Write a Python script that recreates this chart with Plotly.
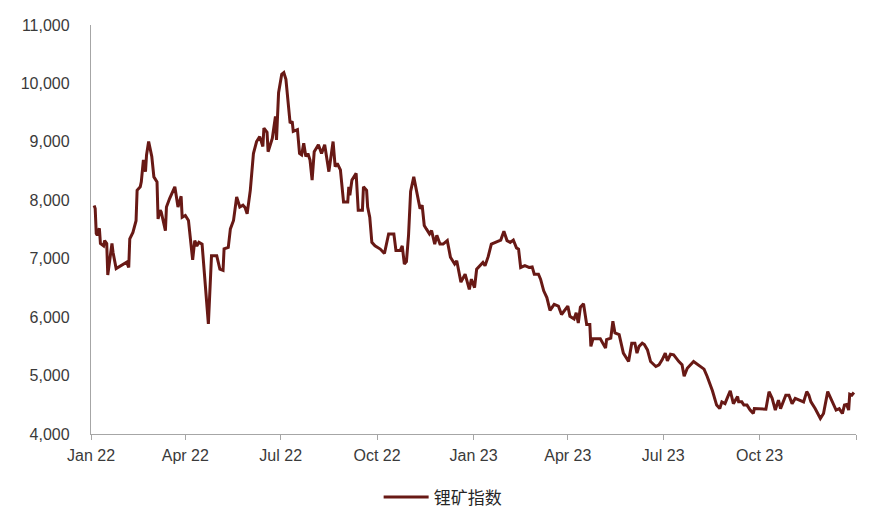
import plotly.graph_objects as go

dates = [
    "2022-01-04","2022-01-05","2022-01-06","2022-01-07","2022-01-08","2022-01-09","2022-01-10","2022-01-13","2022-01-14","2022-01-16",
    "2022-01-17","2022-01-21","2022-01-22","2022-01-25","2022-02-04","2022-02-06","2022-02-07","2022-02-10","2022-02-13","2022-02-14",
    "2022-02-17","2022-02-18","2022-02-20","2022-02-22","2022-02-23","2022-02-25","2022-02-28","2022-03-02","2022-03-05","2022-03-06",
    "2022-03-08","2022-03-09","2022-03-13","2022-03-14","2022-03-17","2022-03-21","2022-03-22","2022-03-25","2022-03-28","2022-03-29",
    "2022-04-01","2022-04-04","2022-04-08","2022-04-10","2022-04-12","2022-04-14","2022-04-17","2022-04-23","2022-04-26","2022-05-01",
    "2022-05-04","2022-05-07","2022-05-08","2022-05-12","2022-05-14","2022-05-17","2022-05-20","2022-05-23","2022-05-26","2022-05-28",
    "2022-05-30","2022-06-02","2022-06-05","2022-06-08","2022-06-11","2022-06-14","2022-06-15","2022-06-18","2022-06-19","2022-06-23",
    "2022-06-26","2022-06-27","2022-06-29","2022-07-02","2022-07-04","2022-07-06","2022-07-10","2022-07-12","2022-07-13","2022-07-17",
    "2022-07-19","2022-07-21","2022-07-23","2022-07-25","2022-07-27","2022-07-29","2022-07-31","2022-08-02","2022-08-06","2022-08-09",
    "2022-08-12","2022-08-16","2022-08-20","2022-08-22","2022-08-24","2022-08-27","2022-08-30","2022-09-03","2022-09-04","2022-09-05",
    "2022-09-07","2022-09-11","2022-09-13","2022-09-17","2022-09-18","2022-09-21","2022-09-22","2022-09-24","2022-09-26","2022-09-29",
    "2022-10-04","2022-10-08","2022-10-10","2022-10-12","2022-10-17","2022-10-19","2022-10-23","2022-10-25","2022-10-27","2022-10-29",
    "2022-10-31","2022-11-02","2022-11-05","2022-11-08","2022-11-11","2022-11-13","2022-11-15","2022-11-17","2022-11-20","2022-11-22",
    "2022-11-25","2022-11-27","2022-11-30","2022-12-03","2022-12-07","2022-12-10","2022-12-14","2022-12-16","2022-12-20","2022-12-24",
    "2022-12-28","2022-12-30","2023-01-02","2023-01-04","2023-01-07","2023-01-10","2023-01-12","2023-01-15","2023-01-18","2023-01-22",
    "2023-01-27","2023-01-30","2023-02-02","2023-02-05","2023-02-08","2023-02-11","2023-02-13","2023-02-15","2023-02-19","2023-02-23",
    "2023-02-26","2023-02-28","2023-03-04","2023-03-06","2023-03-09","2023-03-12","2023-03-15","2023-03-19","2023-03-23","2023-03-26",
    "2023-03-30","2023-04-01","2023-04-03","2023-04-07","2023-04-09","2023-04-11","2023-04-13","2023-04-16","2023-04-19","2023-04-22",
    "2023-04-23","2023-04-25","2023-05-02","2023-05-05","2023-05-07","2023-05-08","2023-05-12","2023-05-14","2023-05-16","2023-05-20",
    "2023-05-24","2023-05-29","2023-06-01","2023-06-04","2023-06-06","2023-06-08","2023-06-11","2023-06-13","2023-06-16","2023-06-19",
    "2023-06-24","2023-06-27","2023-06-30","2023-07-03","2023-07-05","2023-07-08","2023-07-11","2023-07-16","2023-07-19","2023-07-21",
    "2023-07-24","2023-07-30","2023-08-06","2023-08-09","2023-08-12","2023-08-17","2023-08-21","2023-08-24","2023-08-26","2023-08-29",
    "2023-08-31","2023-09-03","2023-09-06","2023-09-10","2023-09-11","2023-09-14","2023-09-16","2023-09-19","2023-09-22","2023-09-25",
    "2023-09-26","2023-10-07","2023-10-10","2023-10-13","2023-10-16","2023-10-19","2023-10-21","2023-10-24","2023-10-26","2023-10-29",
    "2023-11-01","2023-11-04","2023-11-09","2023-11-12","2023-11-15","2023-11-17","2023-11-19","2023-11-23","2023-11-28","2023-12-01",
    "2023-12-05","2023-12-08","2023-12-11","2023-12-13","2023-12-16","2023-12-19","2023-12-21","2023-12-23","2023-12-25","2023-12-26",
    "2023-12-28","2023-12-30",
]

lithium_index = [
    7910,7860,7430,7400,7480,7520,7260,7220,7310,7260,
    6720,7260,7110,6830,6940,6850,7340,7450,7650,8170,
    8230,8315,8690,8490,8775,9005,8750,8400,8315,7680,
    7830,7800,7480,7885,8030,8200,8230,7885,8070,7710,
    7740,7655,6980,7310,7220,7280,7250,5885,7050,7050,
    6820,6800,7170,7195,7510,7655,8055,7885,7915,7875,
    7770,8170,8800,9005,9090,8920,9235,9165,8830,9060,
    9435,9035,9840,10155,10185,10070,9320,9350,9180,9210,
    8800,8775,8975,8750,8800,8690,8345,8830,8950,8800,
    8950,8490,9005,8575,8630,8520,7970,7970,8230,8085,
    8345,8460,7830,7830,8230,8170,7885,7710,7280,7220,
    7165,7090,7250,7425,7425,7140,7140,7220,6910,6950,
    7400,8150,8400,8140,7855,7915,7570,7510,7425,7480,
    7250,7400,7250,7250,7310,7025,6910,6965,6600,6735,
    6475,6650,6505,6820,6880,6935,6880,7035,7250,7280,
    7320,7470,7310,7280,7320,7185,7165,6850,6880,6850,
    6860,6735,6735,6650,6450,6335,6115,6220,6190,6045,
    6130,6190,6015,5970,6075,5900,6170,6230,5875,5875,
    5500,5630,5630,5530,5470,5615,5640,5930,5730,5700,
    5385,5240,5555,5555,5385,5500,5555,5530,5440,5240,
    5155,5185,5270,5385,5250,5365,5355,5240,5185,4990,
    5125,5240,5155,5110,4985,4740,4495,4435,4550,4520,
    4610,4740,4520,4640,4550,4550,4495,4495,4410,4350,
    4435,4425,4725,4610,4410,4580,4435,4580,4665,4665,
    4520,4610,4565,4550,4725,4665,4550,4435,4265,4350,
    4725,4610,4495,4410,4435,4350,4495,4505,4410,4680,
    4665,4710,
]

tick_dates = ["2022-01-01","2022-04-01","2022-07-01","2022-10-01","2023-01-01",
              "2023-04-01","2023-07-01","2023-10-01","2024-01-01"]
tick_labels = ["Jan 22","Apr 22","Jul 22","Oct 22","Jan 23","Apr 23","Jul 23","Oct 23",""]
y_ticks = [4000,5000,6000,7000,8000,9000,10000,11000]
series_name = "锂矿指数"

FONT = "Liberation Sans, Arial, Noto Sans CJK SC, sans-serif"
LINE_COLOR = "#681915"
AXIS_COLOR = "#A6A6A6"

fig = go.Figure()
fig.add_trace(go.Scatter(
    x=dates, y=lithium_index, mode="lines", name=series_name,
    line=dict(color=LINE_COLOR, width=3),
))

fig.update_layout(
    width=876, height=531,
    margin=dict(l=91, r=20, t=25, b=97, autoexpand=False),
    paper_bgcolor="white", plot_bgcolor="white",
    font=dict(family=FONT, size=16, color="#3A3A3A"),
    showlegend=True,
    legend=dict(orientation="h", x=0.376, xanchor="left", y=-0.155, yanchor="middle",
                font=dict(family="Noto Sans CJK SC, sans-serif", size=17, color="#262626"),
                itemwidth=45, bgcolor="rgba(0,0,0,0)"),
)
fig.update_xaxes(
    type="date", range=["2022-01-01", "2024-01-01"],
    tickvals=tick_dates, ticktext=tick_labels,
    showline=True, linecolor=AXIS_COLOR, linewidth=1.3,
    ticks="outside", ticklen=5, tickcolor=AXIS_COLOR, tickwidth=1,
    showgrid=False, zeroline=False,
    ticklabelstandoff=2,
    tickfont=dict(size=16, color="#3A3A3A"),
)
fig.update_yaxes(
    range=[4000, 11000], tickvals=y_ticks, tickformat=",d",
    showline=True, linecolor=AXIS_COLOR, linewidth=1.3,
    ticks="", showgrid=False, zeroline=False,
    ticklabelstandoff=17,
    tickfont=dict(size=16, color="#3A3A3A"),
)

fig.write_html("out.html", config={"displayModeBar": False},
               post_script="document.body.style.margin='0';")
